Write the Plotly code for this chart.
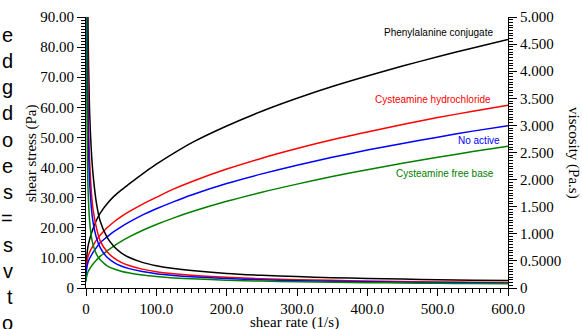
import plotly.graph_objects as go

# ---------------- data ----------------
shear_rate = [0.2, 0.5, 1, 2, 3, 5, 7.5, 10, 15, 20, 30, 40, 50, 60, 80, 100,
              125, 150, 200, 250, 300, 350, 400, 450, 500, 550, 600]

stress_phe = [5, 8, 10, 12.5, 14, 16, 18, 19.7, 22.6, 24.8, 28.0, 30.5, 32.5, 34.3, 37.8, 41.1,
              44.8, 48.2, 53.8, 58.7, 63.0, 66.9, 70.4, 73.7, 76.8, 79.7, 82.5]
visc_phe = [25, 16, 10, 6.25, 4.67, 3.3, 2.55, 2.1, 1.55, 1.24, 0.933, 0.763, 0.65, 0.572, 0.473, 0.411,
            0.358, 0.321, 0.269, 0.235, 0.21, 0.191, 0.176, 0.164, 0.154, 0.145, 0.1375]

stress_hcl = [4, 6.5, 8, 9.5, 10.5, 11.8, 13, 14, 16, 17.5, 20, 22, 23.7, 25.2, 27.8, 30.1,
              32.9, 35.3, 39.5, 43.1, 46.3, 49.2, 51.8, 54.3, 56.6, 58.7, 60.7]
visc_hcl = [20, 13, 8, 4.75, 3.5, 2.4, 1.8, 1.45, 1.1, 0.875, 0.667, 0.55, 0.474, 0.42, 0.348, 0.301,
            0.263, 0.235, 0.198, 0.172, 0.154, 0.141, 0.130, 0.121, 0.113, 0.107, 0.101]

stress_none = [3.2, 5.2, 6.5, 7.8, 8.6, 9.8, 10.8, 11.8, 13.5, 15, 17, 18.8, 20.3, 21.7, 24.2, 26.3,
               28.7, 30.9, 34.7, 37.9, 40.8, 43.4, 45.8, 48.0, 50.1, 52.1, 53.9]
visc_none = [16, 10.4, 6.5, 3.9, 2.87, 2.0, 1.5, 1.22, 0.92, 0.75, 0.567, 0.47, 0.406, 0.362, 0.3025, 0.263,
             0.23, 0.206, 0.1735, 0.152, 0.136, 0.124, 0.1145, 0.107, 0.100, 0.0947, 0.0898]

stress_base = [2.2, 3.2, 3.9, 4.8, 5.4, 6.3, 7.2, 8.0, 9.3, 10.5, 12.3, 14.0, 15.5, 16.8, 19.1, 21.1,
               23.3, 25.3, 28.8, 31.8, 34.5, 37.0, 39.3, 41.4, 43.4, 45.3, 47.05]
visc_base = [11, 6.4, 3.9, 2.4, 1.8, 1.26, 0.96, 0.8, 0.62, 0.525, 0.41, 0.35, 0.31, 0.28, 0.239, 0.211,
             0.186, 0.169, 0.144, 0.127, 0.115, 0.106, 0.098, 0.092, 0.087, 0.082, 0.078]

series_names = ["Phenylalanine conjugate", "Cysteamine hydrochloride", "No active", "Cysteamine free base"]
series_colors = ["#000000", "#ff0000", "#0000ff", "#008000"]
stress_sets = [stress_phe, stress_hcl, stress_none, stress_base]
visc_sets = [visc_phe, visc_hcl, visc_none, visc_base]

x_tickvals = [0, 100, 200, 300, 400, 500, 600]
x_ticktext = ["0", "100.0", "200.0", "300.0", "400.0", "500.0", "600.0"]
y_tickvals = [0, 10, 20, 30, 40, 50, 60, 70, 80, 90]
y_ticktext = ["0", "10.00", "20.00", "30.00", "40.00", "50.00", "60.00", "70.00", "80.00", "90.00"]
y2_tickvals = [0, 0.5, 1, 1.5, 2, 2.5, 3, 3.5, 4, 4.5, 5]
y2_ticktext = ["0", "0.5000", "1.000", "1.500", "2.000", "2.500", "3.000", "3.500", "4.000", "4.500", "5.000"]

side_text = ["e", "d", "g", "d", "o", "e", "s", "=", "s", "v", "t", "o"]

# ---------------- figure ----------------
W, H = 582, 329
L, R, T, B = 86, 74, 17, 41
pw, ph = W - L - R, H - T - B

def px_x(x):
    return (x - L) / pw

def px_y(y):
    return (H - B - y) / ph

fig = go.Figure()
for name, col, s in zip(series_names, series_colors, stress_sets):
    fig.add_trace(go.Scatter(x=shear_rate, y=s, mode="lines", name=name,
                             line=dict(color=col, width=1.5, shape="spline", smoothing=0.8), yaxis="y"))
for name, col, v in zip(series_names, series_colors, visc_sets):
    fig.add_trace(go.Scatter(x=shear_rate, y=v, mode="lines", name=name + " viscosity",
                             line=dict(color=col, width=1.5, shape="spline", smoothing=0.8), yaxis="y2"))

serif = "Liberation Serif"
sans = "Liberation Sans"
tickfont = dict(family=serif, size=15, color="black")

fig.update_layout(
    width=W, height=H,
    font=dict(family=serif, size=15, color="black"),
    margin=dict(l=L, r=R, t=T, b=B, autoexpand=False),
    paper_bgcolor="white", plot_bgcolor="white",
    showlegend=False,
    xaxis=dict(range=[0, 600], showgrid=False, zeroline=False, showline=True,
               linecolor="black", linewidth=1, ticks="outside", ticklen=7, tickcolor="black",
               tickmode="array", tickvals=x_tickvals, ticktext=x_ticktext, tickfont=tickfont,
               automargin=False,
               minor=dict(dtick=10, tick0=0, ticks="outside", ticklen=4, tickcolor="black")),
    yaxis=dict(range=[0, 90], showgrid=False, zeroline=False, showline=True,
               linecolor="black", linewidth=1, ticks="outside", ticklen=8, tickcolor="black",
               tickmode="array", tickvals=y_tickvals, ticktext=y_ticktext, tickfont=tickfont,
               automargin=False,
               minor=dict(dtick=1, tick0=0, ticks="outside", ticklen=4, tickcolor="black")),
    yaxis2=dict(range=[0, 5], overlaying="y", side="right", showgrid=False, zeroline=False,
                showline=True, linecolor="black", linewidth=1, ticks="outside", ticklen=8,
                tickcolor="black", tickmode="array", tickvals=y2_tickvals, ticktext=y2_ticktext,
                tickfont=tickfont, automargin=False,
                minor=dict(dtick=0.05, tick0=0, ticks="outside", ticklen=4, tickcolor="black")),
)

ann = []
# axis titles
ann.append(dict(text="shear stress (Pa)", xref="paper", yref="paper", x=px_x(31), y=px_y(153),
                textangle=-90, showarrow=False, font=dict(family=serif, size=15, color="black"),
                xanchor="center", yanchor="middle"))
ann.append(dict(text="viscosity (Pa.s)", xref="paper", yref="paper", x=px_x(574), y=px_y(153),
                textangle=90, showarrow=False, font=dict(family=serif, size=15, color="black"),
                xanchor="center", yanchor="middle"))
ann.append(dict(text="shear rate (1/s)", xref="paper", yref="paper", x=px_x(294), y=px_y(322),
                showarrow=False, font=dict(family=serif, size=15, color="black"),
                xanchor="center", yanchor="middle"))
# series labels
label_pos = [(495, 32), (493, 99), (502, 140), (496, 174)]
for name, col, (lx, ly) in zip(series_names, series_colors, label_pos):
    ann.append(dict(text=name, xref="paper", yref="paper", x=px_x(lx), y=px_y(ly),
                    xanchor="right", yanchor="middle", showarrow=False,
                    font=dict(family=sans, size=10, color=col)))
# fragments of surrounding text at the left edge
for k, ch in enumerate(side_text):
    ann.append(dict(text=ch, xref="paper", yref="paper", x=px_x(15), y=px_y(34.7 + 26.25 * k),
                    xanchor="right", yanchor="middle", showarrow=False,
                    font=dict(family=sans, size=20, color="black")))
fig.update_layout(annotations=ann)

fig.write_html("out.html",
               config={"displayModeBar": False},
               post_script="document.body.style.margin='0';document.body.style.padding='0';"
                           "document.body.style.overflow='hidden';")
